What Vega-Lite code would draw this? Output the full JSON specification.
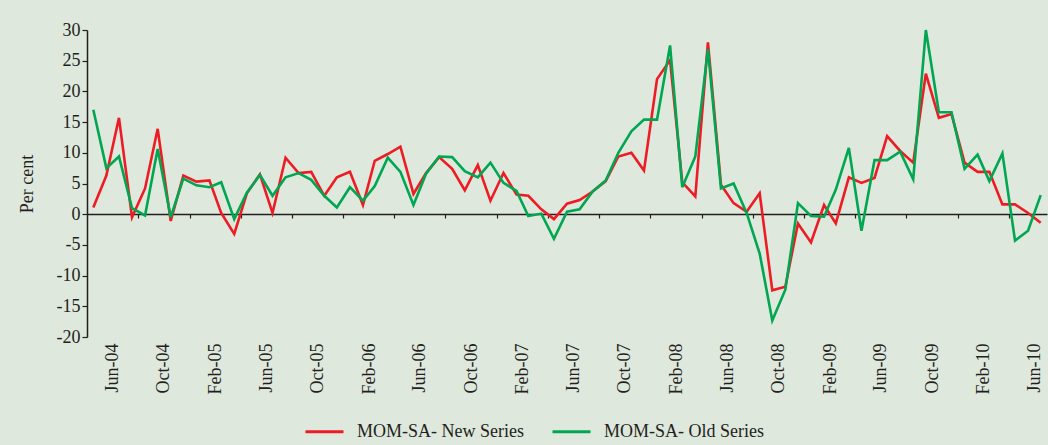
{
  "$schema": "https://vega.github.io/schema/vega-lite/v6.json",
  "width": 960,
  "height": 307,
  "autosize": {"type": "none"},
  "padding": {"left": 87, "top": 30, "right": 1, "bottom": 108},
  "background": "#dfe8dc",
  "config": {
    "view": {"stroke": null},
    "font": "Liberation Serif",
    "axis": {"labelFont": "Liberation Serif", "titleFont": "Liberation Serif", "labelColor": "#231f20", "titleColor": "#231f20", "grid": false},
    "legend": {"labelFont": "Liberation Serif", "labelColor": "#231f20"}
  },
  "data": {
    "values": [
      {"date": "2004-05-01", "New": 1.1, "Old": 17.0},
      {"date": "2004-06-01", "New": 6.3, "Old": 7.5},
      {"date": "2004-07-01", "New": 15.7, "Old": 9.4},
      {"date": "2004-08-01", "New": -0.5, "Old": 1.0},
      {"date": "2004-09-01", "New": 4.2, "Old": -0.2},
      {"date": "2004-10-01", "New": 13.9, "Old": 10.6},
      {"date": "2004-11-01", "New": -1.1, "Old": -0.5},
      {"date": "2004-12-01", "New": 6.3, "Old": 5.8},
      {"date": "2005-01-01", "New": 5.3, "Old": 4.7},
      {"date": "2005-02-01", "New": 5.5, "Old": 4.4},
      {"date": "2005-03-01", "New": 0.2, "Old": 5.2},
      {"date": "2005-04-01", "New": -3.2, "Old": -0.8},
      {"date": "2005-05-01", "New": 3.4, "Old": 3.5},
      {"date": "2005-06-01", "New": 6.5, "Old": 6.4},
      {"date": "2005-07-01", "New": 0.2, "Old": 3.0},
      {"date": "2005-08-01", "New": 9.2, "Old": 6.0},
      {"date": "2005-09-01", "New": 6.7, "Old": 6.7},
      {"date": "2005-10-01", "New": 6.9, "Old": 5.6},
      {"date": "2005-11-01", "New": 3.0, "Old": 3.0},
      {"date": "2005-12-01", "New": 6.0, "Old": 1.1},
      {"date": "2006-01-01", "New": 6.9, "Old": 4.4},
      {"date": "2006-02-01", "New": 1.5, "Old": 2.2},
      {"date": "2006-03-01", "New": 8.7, "Old": 4.6},
      {"date": "2006-04-01", "New": 9.8, "Old": 9.2},
      {"date": "2006-05-01", "New": 11.0, "Old": 6.9},
      {"date": "2006-06-01", "New": 3.3, "Old": 1.5},
      {"date": "2006-07-01", "New": 6.7, "Old": 6.6},
      {"date": "2006-08-01", "New": 9.3, "Old": 9.4},
      {"date": "2006-09-01", "New": 7.4, "Old": 9.3},
      {"date": "2006-10-01", "New": 3.9, "Old": 7.0},
      {"date": "2006-11-01", "New": 8.0, "Old": 6.0},
      {"date": "2006-12-01", "New": 2.2, "Old": 8.4},
      {"date": "2007-01-01", "New": 6.7, "Old": 5.1},
      {"date": "2007-02-01", "New": 3.2, "Old": 3.8},
      {"date": "2007-03-01", "New": 3.0, "Old": -0.3},
      {"date": "2007-04-01", "New": 0.8, "Old": 0.1},
      {"date": "2007-05-01", "New": -0.8, "Old": -4.0},
      {"date": "2007-06-01", "New": 1.7, "Old": 0.4},
      {"date": "2007-07-01", "New": 2.3, "Old": 0.8},
      {"date": "2007-08-01", "New": 3.7, "Old": 3.7},
      {"date": "2007-09-01", "New": 5.4, "Old": 5.5},
      {"date": "2007-10-01", "New": 9.4, "Old": 10.0},
      {"date": "2007-11-01", "New": 10.0, "Old": 13.5},
      {"date": "2007-12-01", "New": 7.1, "Old": 15.4},
      {"date": "2008-01-01", "New": 22.0, "Old": 15.4},
      {"date": "2008-02-01", "New": 25.1, "Old": 27.5},
      {"date": "2008-03-01", "New": 5.2, "Old": 4.4},
      {"date": "2008-04-01", "New": 2.9, "Old": 9.4},
      {"date": "2008-05-01", "New": 28.0, "Old": 26.9},
      {"date": "2008-06-01", "New": 4.8, "Old": 4.2},
      {"date": "2008-07-01", "New": 1.8, "Old": 5.0},
      {"date": "2008-08-01", "New": 0.4, "Old": 0.2},
      {"date": "2008-09-01", "New": 3.4, "Old": -6.4},
      {"date": "2008-10-01", "New": -12.4, "Old": -17.3},
      {"date": "2008-11-01", "New": -11.8, "Old": -12.3},
      {"date": "2008-12-01", "New": -1.5, "Old": 1.8},
      {"date": "2009-01-01", "New": -4.6, "Old": -0.3},
      {"date": "2009-02-01", "New": 1.5, "Old": -0.4},
      {"date": "2009-03-01", "New": -1.5, "Old": 4.0},
      {"date": "2009-04-01", "New": 6.0, "Old": 10.8},
      {"date": "2009-05-01", "New": 5.1, "Old": -2.7},
      {"date": "2009-06-01", "New": 5.9, "Old": 8.8},
      {"date": "2009-07-01", "New": 12.7, "Old": 8.8},
      {"date": "2009-08-01", "New": 10.3, "Old": 10.2},
      {"date": "2009-09-01", "New": 8.4, "Old": 5.7},
      {"date": "2009-10-01", "New": 22.9, "Old": 30.0},
      {"date": "2009-11-01", "New": 15.7, "Old": 16.6},
      {"date": "2009-12-01", "New": 16.3, "Old": 16.6},
      {"date": "2010-01-01", "New": 8.4, "Old": 7.4},
      {"date": "2010-02-01", "New": 6.9, "Old": 9.7},
      {"date": "2010-03-01", "New": 6.9, "Old": 5.4},
      {"date": "2010-04-01", "New": 1.6, "Old": 9.9},
      {"date": "2010-05-01", "New": 1.6, "Old": -4.3},
      {"date": "2010-06-01", "New": 0.2, "Old": -2.7},
      {"date": "2010-07-01", "New": -1.4, "Old": 3.1}
    ]
  },
  "transform": [{"fold": ["New", "Old"], "as": ["series", "value"]}],
  "layer": [
    {
      "mark": {"type": "point", "opacity": 0},
      "encoding": {
        "x": {
          "field": "date", "type": "temporal",
          "scale": {"type": "utc", "domain": [{"year": 2004, "month": 4, "date": 16, "utc": true}, {"year": 2010, "month": 7, "date": 16, "utc": true}], "nice": false},
          "axis": {
            "orient": "bottom", "offset": -123, "title": null, "labels": false,
            "domain": true, "domainColor": "#231f20", "domainWidth": 1.5,
            "ticks": true, "tickSize": 4, "tickColor": "#231f20", "tickWidth": 1.2,
            "values": [
              {"year": 2004, "month": 8, "date": 16, "utc": true},
              {"year": 2004, "month": 12, "date": 16, "utc": true},
              {"year": 2005, "month": 4, "date": 16, "utc": true},
              {"year": 2005, "month": 8, "date": 16, "utc": true},
              {"year": 2005, "month": 12, "date": 16, "utc": true},
              {"year": 2006, "month": 4, "date": 16, "utc": true},
              {"year": 2006, "month": 8, "date": 16, "utc": true},
              {"year": 2006, "month": 12, "date": 16, "utc": true},
              {"year": 2007, "month": 4, "date": 16, "utc": true},
              {"year": 2007, "month": 8, "date": 16, "utc": true},
              {"year": 2007, "month": 12, "date": 16, "utc": true},
              {"year": 2008, "month": 4, "date": 16, "utc": true},
              {"year": 2008, "month": 8, "date": 16, "utc": true},
              {"year": 2008, "month": 12, "date": 16, "utc": true},
              {"year": 2009, "month": 4, "date": 16, "utc": true},
              {"year": 2009, "month": 8, "date": 16, "utc": true},
              {"year": 2009, "month": 12, "date": 16, "utc": true},
              {"year": 2010, "month": 4, "date": 16, "utc": true}
            ]
          }
        }
      }
    },
    {
      "mark": {"type": "line", "strokeWidth": 2.6},
      "encoding": {
        "x": {
          "field": "date", "type": "temporal",
          "axis": {
            "orient": "bottom", "title": null, "domain": false, "ticks": false, "tickSize": 0,
            "labelAngle": 270, "labelPadding": 6, "labelFontSize": 18,
            "labelExpr": "utcFormat(datum.value, '%b-%y')",
            "values": [
              {"year": 2004, "month": 6, "date": 16, "utc": true},
              {"year": 2004, "month": 10, "date": 16, "utc": true},
              {"year": 2005, "month": 2, "date": 16, "utc": true},
              {"year": 2005, "month": 6, "date": 16, "utc": true},
              {"year": 2005, "month": 10, "date": 16, "utc": true},
              {"year": 2006, "month": 2, "date": 16, "utc": true},
              {"year": 2006, "month": 6, "date": 16, "utc": true},
              {"year": 2006, "month": 10, "date": 16, "utc": true},
              {"year": 2007, "month": 2, "date": 16, "utc": true},
              {"year": 2007, "month": 6, "date": 16, "utc": true},
              {"year": 2007, "month": 10, "date": 16, "utc": true},
              {"year": 2008, "month": 2, "date": 16, "utc": true},
              {"year": 2008, "month": 6, "date": 16, "utc": true},
              {"year": 2008, "month": 10, "date": 16, "utc": true},
              {"year": 2009, "month": 2, "date": 16, "utc": true},
              {"year": 2009, "month": 6, "date": 16, "utc": true},
              {"year": 2009, "month": 10, "date": 16, "utc": true},
              {"year": 2010, "month": 2, "date": 16, "utc": true},
              {"year": 2010, "month": 6, "date": 16, "utc": true}
            ]
          }
        },
        "y": {
          "field": "value", "type": "quantitative",
          "scale": {"domain": [-20, 30], "nice": false, "zero": false},
          "axis": {
            "title": "Per cent", "titleFontSize": 18, "titleFontWeight": "normal", "titlePadding": 20,
            "values": [-20, -15, -10, -5, 0, 5, 10, 15, 20, 25, 30],
            "labelExpr": "'' + datum.value", "labelFontSize": 18, "labelPadding": 2,
            "tickSize": 5, "tickColor": "#231f20", "tickWidth": 1.2,
            "domainColor": "#231f20", "domainWidth": 1.5
          }
        },
        "color": {
          "field": "series", "type": "nominal",
          "scale": {"domain": ["New", "Old"], "range": ["#ed1c24", "#00a651"]},
          "legend": {
            "orient": "none", "legendX": 217, "legendY": 381, "direction": "horizontal",
            "title": null, "symbolType": "stroke", "symbolSize": 1444, "symbolStrokeWidth": 3,
            "labelFontSize": 18, "labelOffset": 12, "columnPadding": 22, "padding": 0, "labelLimit": 400,
            "labelExpr": "datum.label == 'New' ? 'MOM-SA- New Series' : 'MOM-SA- Old Series'"
          }
        }
      }
    }
  ],
  "resolve": {"axis": {"x": "independent"}}
}
